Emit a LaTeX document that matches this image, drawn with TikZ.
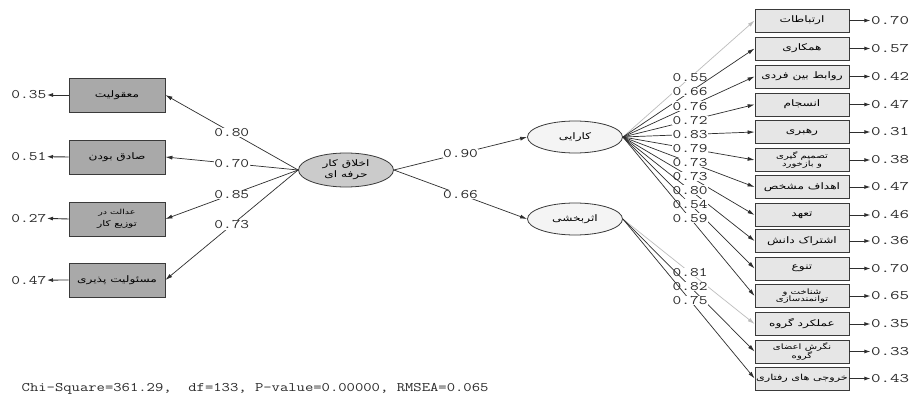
\documentclass[tikz,border=0pt]{standalone}
\usepackage{fontspec}
\usetikzlibrary{shapes.geometric,arrows.meta}
\TeXXeTstate=1
\newfontfamily\arabicfont[Script=Arabic,FakeStretch=1.35]{DejaVu Sans}
\newcommand{\fa}[1]{{\arabicfont\beginR #1\endR}}
\newcommand{\nm}[1]{\scalebox{1.3}[1]{#1}}
\newcommand{\nmr}[1]{\scalebox{1.42}[1]{#1}}
\definecolor{boxline}{HTML}{3A3A3A}
\definecolor{leftfill}{HTML}{A9A9A9}
\definecolor{rightfill}{HTML}{E6E6E6}
\definecolor{midfill}{HTML}{CBCBCB}
\definecolor{latfill}{HTML}{F4F4F4}
\definecolor{linegray}{HTML}{2E2E2E}
\definecolor{lightline}{HTML}{BDBDBD}
\definecolor{numcol}{HTML}{2A2A2A}
\tikzset{
  lbox/.style={draw=boxline, line width=0.8pt, fill=leftfill, minimum width=96pt, minimum height=34pt, inner sep=0pt, align=center, font=\arabicfont\fontsize{9}{10}\selectfont},
  rbox/.style={draw=boxline, line width=0.8pt, fill=rightfill, minimum width=94pt, minimum height=23pt, inner sep=0pt, align=center, font=\arabicfont\fontsize{9}{9}\selectfont},
  smalltxt/.style={font=\arabicfont\fontsize{7.5}{7.8}\selectfont},
  lat/.style={ellipse, draw=boxline, line width=0.8pt, fill=latfill, minimum width=95pt, minimum height=32pt, inner sep=0pt, align=center, font=\arabicfont\fontsize{9}{11}\selectfont},
  num/.style={font=\ttfamily\fontsize{13}{13}\selectfont, text=numcol, inner sep=0.5pt},
  lnum/.style={num, fill=white},
  pth/.style={draw=linegray, line width=0.7pt, -{Latex[length=7pt,width=4pt]}},
  lpth/.style={pth, draw=lightline},
  err/.style={draw=linegray, line width=0.9pt, -{Latex[length=6pt,width=4pt]}}
}
\begin{document}
\begin{tikzpicture}[x=1pt,y=-1pt]
\fill[white] (0,0) rectangle (914,412);
\useasboundingbox (0,0) rectangle (914,412);

% left indicators
\node[lbox] (l1) at (117,95) {\fa{معقولیت}};
\node[lbox] (l2) at (117,157) {\fa{صادق بودن}};
\node[lbox, font=\arabicfont\fontsize{8}{12}\selectfont] (l3) at (117,219) {{\fontsize{7}{7}\selectfont\fa{عدالت در}}\\\fa{توزیع کار}};
\node[lbox] (l4) at (117,280) {\fa{مسئولیت پذیری}};

\foreach \i/\v in {1/0.35,2/0.51,3/0.27,4/0.47}{
  \node[num, anchor=east] (el\i) at (47,{95+61.7*(\i-1)}) {\nm{\v}};
  \draw[err] (l\i.west) -- (el\i.east);
}

% latent variables
\node[lat, fill=midfill, minimum height=34pt] (c) at (346,170) {\fa{اخلاق کار}\\\fa{حرفه ای}};
\node[lat] (k) at (575,137) {\fa{کارایی}};
\node[lat] (a) at (575,219) {\fa{اثربخشی}};

\draw[pth] (c.west) -- node[lnum]{\nm{0.80}} (l1.east);
\draw[pth] (c.west) -- node[lnum]{\nm{0.70}} (l2.east);
\draw[pth] (c.west) -- node[lnum]{\nm{0.85}} (l3.east);
\draw[pth] (c.west) -- node[lnum]{\nm{0.73}} (l4.east);

\draw[pth] (c.east) -- node[lnum]{\nm{0.90}} (k.west);
\draw[pth] (c.east) -- node[lnum]{\nm{0.66}} (a.west);

% right indicators
\node[rbox] (r1) at (802,20.5) {\fa{ارتباطات}};
\node[rbox] (r2) at (802,48.5) {\fa{همکاری}};
\node[rbox] (r3) at (802,76.5) {\fa{روابط بین فردی}};
\node[rbox] (r4) at (802,104.5) {\fa{انسجام}};
\node[rbox] (r5) at (802,132) {\fa{رهبری}};
\node[rbox, smalltxt] (r6) at (802,160) {\fa{تصمیم گیری}\\\fa{و بازخورد}};
\node[rbox] (r7) at (802,187) {\fa{اهداف مشخص}};
\node[rbox] (r8) at (802,215) {\fa{تعهد}};
\node[rbox] (r9) at (802,241) {\fa{اشتراک دانش}};
\node[rbox] (r10) at (802,268.5) {\fa{تنوع}};
\node[rbox, smalltxt] (r11) at (802,296) {\fa{شناخت و}\\\fa{توانمندسازی}};
\node[rbox] (r12) at (802,324) {\fa{عملکرد گروه}};
\node[rbox, smalltxt] (r13) at (802,351.5) {\fa{نگرش اعضای}\\\fa{گروه}};
\node[rbox, font=\arabicfont\fontsize{8.3}{9}\selectfont] (r14) at (802,378.5) {\fa{خروجی های رفتاری}};

\foreach \i/\v in {1/0.70,2/0.57,3/0.42,4/0.47,5/0.31,6/0.38,7/0.47,8/0.46,9/0.36,10/0.70,11/0.65,12/0.35,13/0.33,14/0.43}{
  \node[num, anchor=west] (er\i) at ([xshift=21pt]r\i.east) {\nmr{\v}};
  \draw[err] (r\i.east) -- (er\i.west);
}

% loadings of the first latent
\draw[lpth] (k.east) -- node[lnum, pos=0.51]{\nm{0.55}} (r1.west);
\foreach \i/\v in {2/0.66,3/0.76,4/0.72,5/0.83,6/0.79,7/0.73,8/0.73,9/0.80,10/0.54,11/0.59}{
  \draw[pth] (k.east) -- node[lnum, pos=0.51]{\nm{\v}} (r\i.west);
}
% loadings of the second latent
\draw[lpth] (a.east) -- node[lnum, pos=0.51]{\nm{0.81}} (r12.west);
\draw[pth] (a.east) -- node[lnum, pos=0.51]{\nm{0.82}} (r13.west);
\draw[pth] (a.east) -- node[lnum, pos=0.51]{\nm{0.75}} (r14.west);

\node[num, anchor=west] (fit) at (21,389) {\scalebox{1.245}[1]{Chi-Square=361.29,\ \ df=133, P-value=0.00000, RMSEA=0.065}};
\end{tikzpicture}
\end{document}
